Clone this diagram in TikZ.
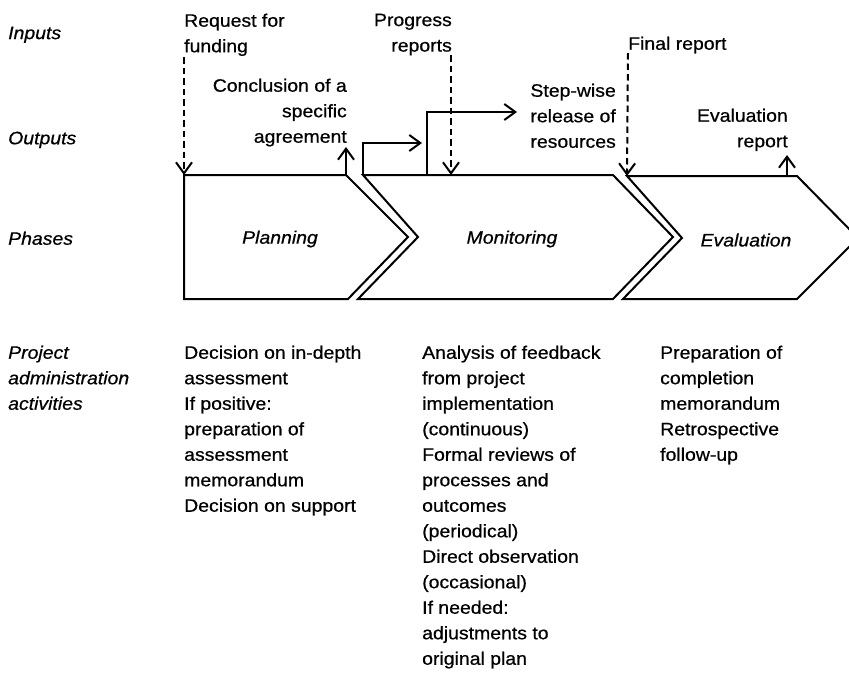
\documentclass[tikz,border=0pt]{standalone}
\usepackage{fontspec}
\setmainfont{Liberation Sans}[FakeStretch=1.08, FakeBold=0.6]
\usetikzlibrary{arrows.meta}

\tikzset{
  txt/.style={inner sep=0pt, align=left, font=\fontsize{18pt}{25.5pt}\selectfont},
  txtr/.style={inner sep=0pt, align=right, font=\fontsize{18pt}{25.5pt}\selectfont},
  lbl/.style={txt, font=\fontsize{18pt}{25.5pt}\selectfont\itshape},
  phase/.style={draw=black, line width=2pt, line join=miter},
  tipbarb/.style={-{Straight Barb[length=11pt,width=16pt,line width=2pt]}},
  inarrow/.style={tipbarb, line width=2pt, dash pattern=on 6.5pt off 4pt},
  outarrow/.style={tipbarb, line width=2.2pt},
}

\begin{document}
\begin{tikzpicture}[x=1pt,y=-1pt]
\path[use as bounding box, clip] (0,0) rectangle (849,675);
\fill[white] (0,0) rectangle (849,675);

% row labels
\node[lbl, anchor=north west] (rIn)  at (8,26.5)  {Inputs};
\node[lbl, anchor=north west] (rOut) at (8,131.5) {Outputs};
\node[lbl, anchor=north west] (rPh)  at (8,231.5) {Phases};
\node[lbl, anchor=north west] (rAct) at (8,345.5) {Project\\administration\\activities};

% phase chevrons
\draw[phase] (184,175) coordinate (plTL) -- (346,175) coordinate (plTR)
  -- (408,237) -- (348,299) -- (184,299) -- cycle;
\draw[phase] (363,175) coordinate (moTL) -- (613,175) coordinate (moTR)
  -- (673,237) -- (613,299) -- (358,299) -- (418,237) -- cycle;
\draw[phase] (627,176) coordinate (evTL) -- (797,176) coordinate (evTR)
  -- (858,238) -- (797,299) -- (623,299) -- (682,238) -- cycle;

\node[lbl, anchor=center] (plan) at (280,239) {Planning};
\node[lbl, anchor=center] (moni) at (512,239) {Monitoring};
\node[lbl, anchor=center] (eval) at (746,240) {Evaluation};

% inputs
\node[txt, anchor=north west] (req) at (184,13.5) {Request for\\funding};
\node[txtr, anchor=north east] (prog) at (452,13.5) {Progress\\reports};
\node[txt, anchor=north west] (fin) at (628,36.5) {Final report};

\coordinate (reqS)  at (184,57);
\coordinate (progS) at (451,55);
\coordinate (finS)  at (628,53);
\coordinate (progE) at (451,175);

\draw[inarrow] (reqS) -- (plTL);
\draw[inarrow] (progS) -- (progE);
\draw[inarrow] (finS) -- (evTL);

% outputs
\node[txtr, anchor=north east] (conc) at (347,78.5) {Conclusion of a\\specific\\agreement};
\node[txtr, anchor=north east] (step) at (616,83.5) {Step-wise\\release of\\resources};
\node[txtr, anchor=north east] (evrep) at (788,108.5) {Evaluation\\report};

\coordinate (concE) at (346,147);
\coordinate (evE)   at (787,155);
\coordinate (evS)   at (787,176);
\coordinate (s1S) at (363,175);
\coordinate (s1E) at (422,143);
\coordinate (s2S) at (427,175);
\coordinate (s2E) at (517,112);

\draw[outarrow] (plTR) -- (concE);
\draw[outarrow] (evS) -- (evE);
\draw[outarrow] (s1S) |- (s1E);
\draw[outarrow] (s2S) |- (s2E);

% activities
\node[txt, anchor=north west] (actP) at (184,345.5)
  {Decision on in-depth\\assessment\\If positive:\\preparation of\\assessment\\memorandum\\Decision on support};
\node[txt, anchor=north west] (actM) at (422,345.5)
  {Analysis of feedback\\from project\\implementation\\(continuous)\\Formal reviews of\\processes and\\outcomes\\(periodical)\\Direct observation\\(occasional)\\If needed:\\adjustments to\\original plan};
\node[txt, anchor=north west] (actE) at (660,345.5)
  {Preparation of\\completion\\memorandum\\Retrospective\\follow-up};
\end{tikzpicture}
\end{document}
